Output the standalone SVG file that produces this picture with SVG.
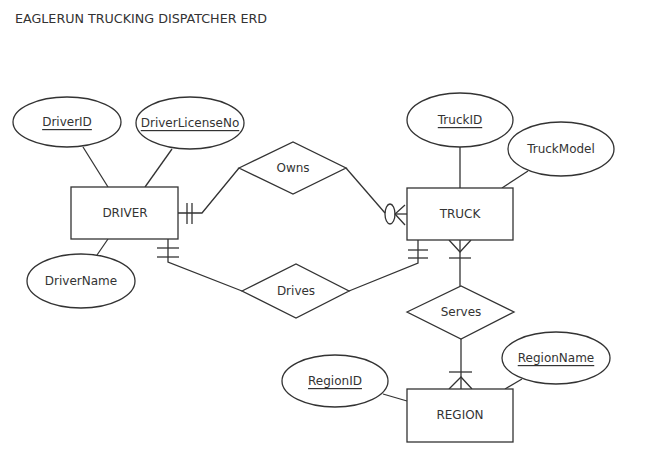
<svg xmlns="http://www.w3.org/2000/svg" width="671" height="462" viewBox="0 0 671 462">
<style>
.s{fill:#fff;stroke:#333;stroke-width:1.3}
.l{fill:none;stroke:#333;stroke-width:1.3}
.t{font-family:"DejaVu Sans",Verdana,sans-serif;font-size:12px;fill:#333;text-anchor:middle;dominant-baseline:central}
.u{text-decoration:underline}
</style>
<rect width="671" height="462" fill="#fff"/>
<text x="15" y="18" style="font-family:'DejaVu Sans',Verdana,sans-serif;font-size:12.7px;fill:#333" dominant-baseline="central">EAGLERUN TRUCKING DISPATCHER ERD</text>
<g id="connectors">
<line class="l" x1="83" y1="147" x2="108" y2="187"/>
<line class="l" x1="172" y1="149" x2="145" y2="187"/>
<line class="l" x1="108" y1="239" x2="97" y2="255"/>
<line class="l" x1="460" y1="147" x2="460" y2="188"/>
<line class="l" x1="528" y1="171" x2="502" y2="188"/>
<line class="l" x1="383" y1="394" x2="407" y2="401"/>
<line class="l" x1="522" y1="379" x2="505" y2="389"/>
<polyline class="l" points="178,213 202,213 239,168"/>
<line class="l" x1="187" y1="203" x2="187" y2="224"/>
<line class="l" x1="192" y1="203" x2="192" y2="224"/>
<polyline class="l" points="346,168 385,213"/>
<ellipse class="l" cx="390" cy="214" rx="5" ry="10"/>
<polyline class="l" points="405,205 395,214 405,225"/>
<line class="l" x1="395" y1="214" x2="407" y2="214"/>
<polyline class="l" points="168,239 168,262 242,291"/>
<line class="l" x1="157" y1="248" x2="179" y2="248"/>
<line class="l" x1="157" y1="257" x2="179" y2="257"/>
<polyline class="l" points="349,291 418,263 418,240"/>
<line class="l" x1="408" y1="250" x2="428" y2="250"/>
<line class="l" x1="408" y1="258" x2="428" y2="258"/>
<line class="l" x1="460" y1="240" x2="460" y2="286"/>
<polyline class="l" points="449,240 460,252 471,240"/>
<line class="l" x1="449" y1="258" x2="471" y2="258"/>
<line class="l" x1="461" y1="339" x2="461" y2="389"/>
<line class="l" x1="449" y1="372" x2="472" y2="372"/>
<polyline class="l" points="449,389 461,377 472,389"/>
</g>
<g id="DRIVER"><rect class="s" x="71" y="187" width="107" height="52"/><text class="t" x="125" y="213">DRIVER</text></g>
<g id="TRUCK"><rect class="s" x="407" y="188" width="106" height="52"/><text class="t" x="460" y="214">TRUCK</text></g>
<g id="REGION"><rect class="s" x="407" y="389" width="106" height="53"/><text class="t" x="460" y="415">REGION</text></g>
<g id="DriverID"><ellipse class="s" cx="67" cy="122" rx="54" ry="25"/><text class="t u" x="67" y="122">DriverID</text></g>
<g id="DriverLicenseNo"><ellipse class="s" cx="190" cy="123" rx="54" ry="26"/><text class="t u" x="190" y="123">DriverLicenseNo</text></g>
<g id="DriverName"><ellipse class="s" cx="81" cy="281" rx="54" ry="27"/><text class="t" x="81" y="281">DriverName</text></g>
<g id="TruckID"><ellipse class="s" cx="460" cy="120" rx="53" ry="27"/><text class="t u" x="460" y="120">TruckID</text></g>
<g id="TruckModel"><ellipse class="s" cx="561" cy="149" rx="53" ry="27"/><text class="t" x="561" y="149">TruckModel</text></g>
<g id="RegionID"><ellipse class="s" cx="335" cy="381" rx="53" ry="26"/><text class="t u" x="335" y="381">RegionID</text></g>
<g id="RegionName"><ellipse class="s" cx="556" cy="358" rx="54" ry="26"/><text class="t u" x="556" y="358">RegionName</text></g>
<g id="Owns"><polygon class="s" points="239,168 293,142 346,168 293,194"/><text class="t" x="293" y="168">Owns</text></g>
<g id="Drives"><polygon class="s" points="242,291 296,264 349,291 296,318"/><text class="t" x="296" y="291">Drives</text></g>
<g id="Serves"><polygon class="s" points="407,312 461,286 514,312 461,339"/><text class="t" x="461" y="312">Serves</text></g>
</svg>
